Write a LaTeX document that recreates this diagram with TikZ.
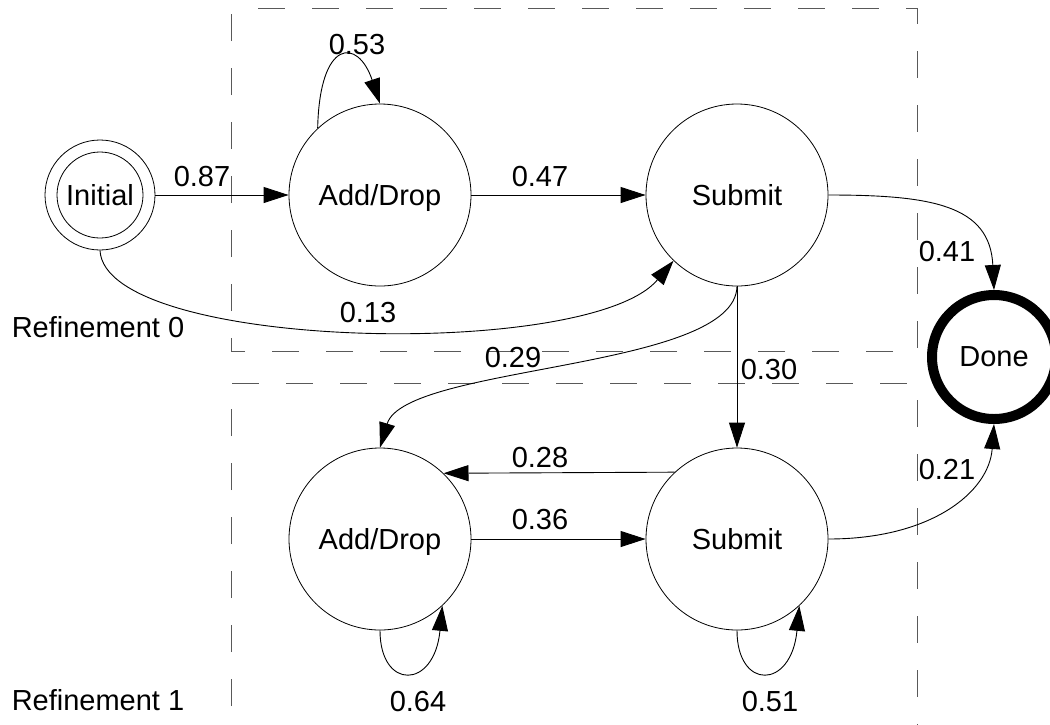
\documentclass[tikz,border=0pt]{standalone}
\usepackage{fontspec}
\setmainfont{Liberation Sans}
\usetikzlibrary{arrows.meta}
\begin{document}
\begin{tikzpicture}[x=1pt,y=-1pt,
  every node/.style={font=\fontsize{29}{34}\selectfont},
  state/.style={draw,circle,minimum size=182pt,inner sep=0pt,line width=0.8pt,text depth=0pt},
  arr/.style={line width=0.9pt,-{Triangle[length=25pt,width=16pt]}},
  region/.style={draw=black!65,line width=0.9pt,dash pattern=on 27pt off 27pt},
  lbl/.style={inner sep=0pt,anchor=center}]
\useasboundingbox (0,0) rectangle (1050,724);

% refinement regions
\draw[region,dash phase=27pt] (231,8) -- (917,8) -- (917,351) -- (231,351) -- cycle;
\draw[region] (231,760) -- (231,383) -- (917,383) -- (917,760);

% states
\node[draw,circle,minimum size=110pt,inner sep=0pt,line width=0.8pt] (init) at (100,195) {};
\node[draw,circle,minimum size=86pt,inner sep=0pt,line width=0.8pt,text depth=0pt] (initin) at (100,195) {Initial};
\node[state] (ad0) at (380,195) {Add/Drop};
\node[state] (sub0) at (737,195) {Submit};
\node[state] (ad1) at (380,539) {Add/Drop};
\node[state] (sub1) at (737,539) {Submit};
\node[draw,circle,minimum size=124pt,inner sep=0pt,line width=10pt,text depth=0pt] (done) at (994,357) {Done};

% transitions
\draw[arr] (init) -- (ad0);
\draw[arr] (ad0) -- (sub0);
\draw[arr] (ad0.133) .. controls +(2,-90) and +(-22,-66) .. (ad0.north);
\draw[arr] (init.south) .. controls +(5,100) and +(-84,100) .. (sub0.226);
\draw[arr] (sub0.east) .. controls +(103,0) and +(-4,-85) .. (done.north);
\draw[arr] (sub0.south) .. controls +(-2,84) and +(25,-83) .. (ad1.north);
\draw[arr] (sub0) -- (sub1);
\draw[arr] (sub1.133.5) -- (ad1.46.5);
\draw[arr] (ad1) -- (sub1);
\draw[arr] (ad1.south) .. controls +(0,60) and +(-8,84) .. (ad1.313);
\draw[arr] (sub1.south) .. controls +(0,60) and +(-8,84) .. (sub1.313);
\draw[arr] (sub1.east) .. controls +(103,0) and +(-5,68) .. (done.south);

% probabilities
\node[lbl] (p53) at (357,45) {0.53};
\node[lbl] (p87) at (202,177) {0.87};
\node[lbl] (p47) at (540,177) {0.47};
\node[lbl] (p13) at (368,313) {0.13};
\node[lbl] (p41) at (947,252) {0.41};
\node[lbl] (p29) at (513,358) {0.29};
\node[lbl] (p30) at (769,370) {0.30};
\node[lbl] (p28) at (540,458) {0.28};
\node[lbl] (p36) at (540,520) {0.36};
\node[lbl] (p21) at (947,470) {0.21};
\node[lbl] (p64) at (418,702) {0.64};
\node[lbl] (p51) at (770,702) {0.51};

% region captions
\node[lbl] (ref0) at (98,327) {Refinement 0};
\node[lbl] (ref1) at (98,700) {Refinement 1};
\end{tikzpicture}
\end{document}
